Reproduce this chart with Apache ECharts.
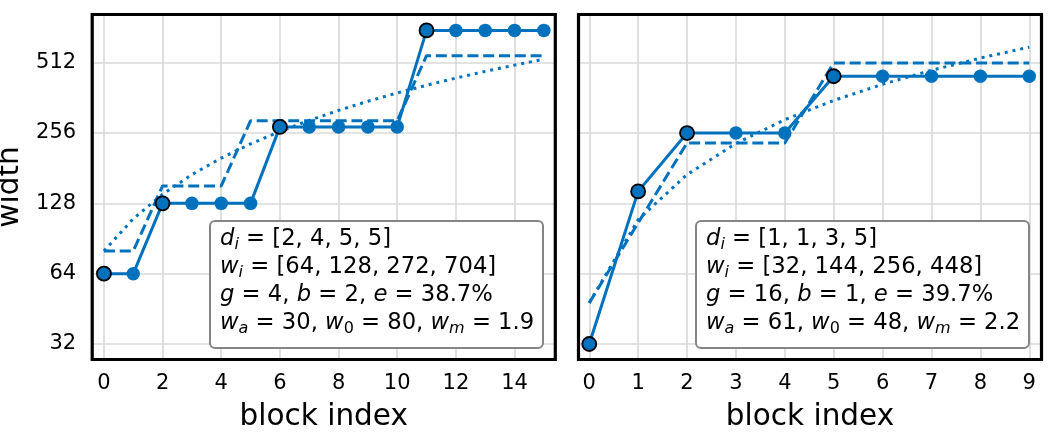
<!DOCTYPE html>
<html><head><meta charset="utf-8">
<script src="https://cdn.jsdelivr.net/npm/echarts@6/dist/echarts.min.js"></script>
<style>html,body{margin:0;padding:0;background:#fff}#c{width:1056px;height:433px}</style>
</head><body><div id="c"></div>
<script>
// ---------- data ----------
const leftBlocks      = [0,1,2,3,4,5,6,7,8,9,10,11,12,13,14,15];
const leftWidths      = [64,64,128,128,128,128,272,272,272,272,272,704,704,704,704,704];
const leftQuantized   = [80,80,152,152,152,289,289,289,289,289,289,549,549,549,549,549];
const leftLinear      = [80,110,140,170,200,230,260,290,320,350,380,410,440,470,500,530];
const leftStageStarts = [0,2,6,11];
const leftDepths      = [2,4,5,5];
const leftStageWidths = [64,128,272,704];
const leftParams      = ['4','2','38.7%','30','80','1.9']; // g, b, e, wa, w0, wm

const rightBlocks      = [0,1,2,3,4,5,6,7,8,9];
const rightWidths      = [32,144,256,256,256,448,448,448,448,448];
const rightQuantized   = [48,105.6,232.3,232.3,232.3,511,511,511,511,511];
const rightLinear      = [48,109,170,231,292,353,414,475,536,597];
const rightStageStarts = [0,1,2,5];
const rightDepths      = [1,1,3,5];
const rightStageWidths = [32,144,256,448];
const rightParams      = ['16','1','39.7%','61','48','2.2'];

const yTickLabels      = [32,64,128,256,512];
const leftXTickLabels  = [0,2,4,6,8,10,12,14];
const rightXTickLabels = [0,1,2,3,4,5,6,7,8,9];

// ---------- styling / layout ----------
const BLUE = '#0072BD';
const FONT = 'DejaVu Sans';
const TICK_FS = 21;
const TOP = 14.5, H = 345;
const PANELS = [
  {x: 92.2, w: 463.1, xmin: -0.4, xmax: 15.39, step: 2, box: {x: 210, w: 333}},
  {x: 578.5, w: 463, xmin: -0.22, xmax: 9.25, step: 1, box: {x: 696, w: 333}}
];
const BOX_Y = 221, BOX_H = 127;
const LW = 3;

const chart = echarts.init(document.getElementById('c'), null, {renderer: 'canvas'});

function solidData(xs, ys, starts) {
  return xs.map((x, i) => {
    const item = {value: [x, ys[i]]};
    if (starts.indexOf(x) >= 0) {
      item.symbolSize = 14;
      item.itemStyle = {color: BLUE, borderColor: '#000', borderWidth: 1.8};
    }
    return item;
  });
}
function pairs(xs, ys) { return xs.map((x, i) => [x, ys[i]]); }

function boxText(depths, widths, p) {
  return [
    '{it|d}{sub|i}{r| = [' + depths.join(', ') + ']}',
    '{it|w}{sub|i}{r| = [' + widths.join(', ') + ']}',
    '{it|g}{r| = ' + p[0] + ', }{it|b}{r| = ' + p[1] + ', }{it|e}{r| = ' + p[2] + '}',
    '{it|w}{sub|a}{r| = ' + p[3] + ', }{it|w}{subr|0}{r| = ' + p[4] + ', }{it|w}{sub|m}{r| = ' + p[5] + '}'
  ].join('\n');
}
const LH = 27.9;
const FS = 22.7;
const rich = {
  r:   {fontFamily: FONT, fontSize: FS, lineHeight: LH, fill: '#000'},
  it:  {fontFamily: FONT, fontSize: FS, fontStyle: 'italic', lineHeight: LH, fill: '#000'},
  sub: {fontFamily: FONT, fontSize: 16, fontStyle: 'italic', lineHeight: 15, verticalAlign: 'bottom', fill: '#000'},
  subr:{fontFamily: FONT, fontSize: 16, lineHeight: 15, verticalAlign: 'bottom', fill: '#000'}
};
const tickRich = {t: {fontFamily: FONT, fontSize: TICK_FS, color: '#000', lineHeight: TICK_FS}};

const xTickSets = [leftXTickLabels, rightXTickLabels];
const grids = PANELS.map(p => ({left: p.x, top: TOP, width: p.w, height: H, show: false,
  containLabel: false, outerBoundsMode: 'none'}));
const xAxes = PANELS.map((p, i) => ({
  type: 'value', gridIndex: i, min: p.xmin, max: p.xmax,
  minInterval: p.step, maxInterval: p.step, splitNumber: 8,
  axisLine: {show: false}, axisTick: {show: false},
  axisLabel: {color: '#000', fontFamily: FONT, fontSize: TICK_FS, margin: 14, rich: tickRich,
    formatter: v => (xTickSets[i].indexOf(Math.round(v)) >= 0 && Math.abs(v - Math.round(v)) < 1e-6) ? '{t|' + Math.round(v) + '}' : ''},
  splitLine: {show: true, showMinLine: false, showMaxLine: false, lineStyle: {color: '#dadada', width: 1.7}},
  name: 'block index', nameLocation: 'middle', nameGap: 43,
  nameTextStyle: {color: '#000', fontFamily: FONT, fontSize: 29.5}
}));
const yAxes = PANELS.map((p, i) => ({
  type: 'log', logBase: 2, gridIndex: i, min: 27.47, max: 823.4,
  axisLine: {show: false}, axisTick: {show: false},
  axisLabel: {show: i === 0, color: '#000', fontFamily: FONT, fontSize: TICK_FS, margin: 16, rich: tickRich,
    formatter: v => {
      const r = Math.round(v);
      return (yTickLabels.indexOf(r) >= 0 && Math.abs(v - r) < 1e-3) ? '{t|' + r + '}' : '';
    }},
  splitLine: {show: true, showMinLine: false, showMaxLine: false, lineStyle: {color: '#dadada', width: 1.7}},
  name: i === 0 ? 'width' : '', nameLocation: 'middle', nameGap: 67, nameRotate: 90,
  nameTextStyle: {color: '#000', fontFamily: FONT, fontSize: 29.5}
}));

const sets = [
  {bx: leftBlocks, w: leftWidths, q: leftQuantized, l: leftLinear, s: leftStageStarts},
  {bx: rightBlocks, w: rightWidths, q: rightQuantized, l: rightLinear, s: rightStageStarts}
];
const series = [];
sets.forEach((d, i) => {
  series.push({type: 'line', xAxisIndex: i, yAxisIndex: i, data: pairs(d.bx, d.l), symbol: 'none', z: 2,
    lineStyle: {color: BLUE, width: LW, type: [3, 4.9], cap: 'butt'}});
  series.push({type: 'line', xAxisIndex: i, yAxisIndex: i, data: pairs(d.bx, d.q), symbol: 'none', z: 3,
    lineStyle: {color: BLUE, width: LW, type: [11, 4.8], cap: 'butt'}});
  series.push({type: 'line', xAxisIndex: i, yAxisIndex: i, data: solidData(d.bx, d.w, d.s), z: 4,
    symbol: 'circle', symbolSize: 13.5, showSymbol: true,
    itemStyle: {color: BLUE, borderWidth: 0},
    lineStyle: {color: BLUE, width: LW}});
});

const texts = [
  boxText(leftDepths, leftStageWidths, leftParams),
  boxText(rightDepths, rightStageWidths, rightParams)
];
const graphic = [];
PANELS.forEach((p, i) => {
  graphic.push({type: 'rect', z: 50, silent: true,
    shape: {x: p.box.x, y: BOX_Y, width: p.box.w, height: BOX_H, r: 5},
    style: {fill: '#fff', stroke: '#858585', lineWidth: 2}});
  graphic.push({type: 'text', z: 51, silent: true, x: p.box.x + 10, y: BOX_Y + 4,
    style: {text: texts[i], rich: rich, fontFamily: FONT, fontSize: FS, lineHeight: LH, fill: '#000', verticalAlign: 'top'}});
  graphic.push({type: 'rect', z: 100, silent: true,
    shape: {x: p.x, y: TOP, width: p.w, height: H},
    style: {fill: 'none', stroke: '#000', lineWidth: 3.2}});
});

chart.setOption({
  animation: false,
  backgroundColor: '#fff',
  grid: grids, xAxis: xAxes, yAxis: yAxes, series: series, graphic: graphic
});
</script></body></html>
